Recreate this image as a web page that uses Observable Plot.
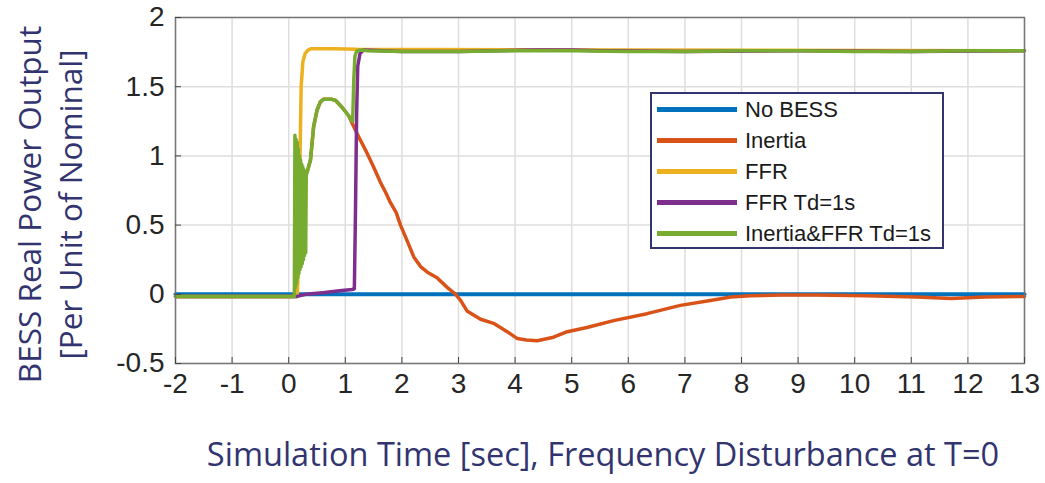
<!DOCTYPE html>
<html><head><meta charset="utf-8">
<script src="https://cdn.jsdelivr.net/npm/d3@7"></script>
<script src="https://cdn.jsdelivr.net/npm/@observablehq/plot@0.6"></script>
<style>
body{margin:0;background:#fff;}
#wrap{position:relative;width:1045px;height:483px;overflow:hidden;}
#legend{position:absolute;left:650px;top:92px;width:290px;height:153px;border:2px solid #33336e;background:#fff;font-family:"Liberation Sans",Arial,sans-serif;font-size:22px;color:#1a1a1a;}
.row{position:absolute;left:5px;height:31px;display:flex;align-items:center;white-space:nowrap;}
.sw{width:80px;height:5px;margin-right:8px;}
</style></head><body><div id="wrap"></div>
<script>
// ---- data ----
const seriesNames = ["No BESS", "Inertia", "FFR", "FFR Td=1s", "Inertia&FFR Td=1s"];
const seriesColors = ["#0072BD", "#D95319", "#EDB120", "#7E2F8E", "#77AC30"];
const xTicks = [-2,-1,0,1,2,3,4,5,6,7,8,9,10,11,12,13];
const yTicks = [-0.5,0,0.5,1,1.5,2];
const xTitle = "Simulation Time [sec], Frequency Disturbance at T=0";
const yTitle1 = "BESS Real Power Output";
const yTitle2 = "[Per Unit of Nominal]";

const tNoBess = [-2, 13];
const vNoBess = [0, 0];

const tInertia = [-2,-1,0,0.10,0.13,0.16,0.19,0.22,0.26,0.30,0.33,0.385,0.44,0.50,0.56,0.62,0.68,0.75,0.83,0.945,1.06,1.15,1.24,1.36,1.50,1.62,1.72,1.80,1.90,1.975,2.09,2.21,2.33,2.45,2.62,2.80,2.95,3.04,3.15,3.39,3.62,3.86,4.04,4.2,4.39,4.68,4.92,5.27,5.74,6.33,6.92,7.45,7.81,8.16,8.7,9.34,10.2,11.1,11.7,12.3,13];
const vInertia = [-0.015,-0.015,-0.015,-0.015,0.15,0.45,0.65,0.78,0.84,0.87,0.89,0.97,1.21,1.33,1.39,1.41,1.41,1.41,1.40,1.35,1.29,1.21,1.135,1.04,0.92,0.81,0.73,0.66,0.59,0.50,0.39,0.27,0.20,0.16,0.12,0.05,0.0,-0.045,-0.12,-0.18,-0.21,-0.27,-0.32,-0.33,-0.335,-0.31,-0.27,-0.24,-0.19,-0.14,-0.08,-0.045,-0.02,-0.01,-0.005,-0.005,-0.01,-0.02,-0.03,-0.02,-0.015];

const tFFR = [-2,0.15,0.18,0.20,0.22,0.25,0.29,0.34,0.40,0.8,1.2,13];
const vFFR = [-0.015,-0.015,0.3,1.0,1.5,1.68,1.74,1.765,1.775,1.775,1.77,1.76];

const tFFRTd = [-2,0.15,0.3,0.6,0.9,1.12,1.16,1.18,1.20,1.22,1.26,1.32,2.0,3.0,4.3,5.0,5.5,7,9,11,13];
const vFFRTd = [-0.015,-0.015,0.0,0.012,0.025,0.035,0.04,0.6,1.3,1.65,1.74,1.765,1.755,1.755,1.765,1.765,1.76,1.755,1.76,1.755,1.76];

const tInFFR = [-2,0.10,0.11,0.12,0.13,0.14,0.15,0.16,0.17,0.18,0.19,0.20,0.21,0.22,0.23,0.24,0.25,0.26,0.27,0.28,0.29,0.30,0.31,0.33,0.385,0.44,0.50,0.56,0.62,0.68,0.75,0.83,0.945,1.06,1.10,1.13,1.15,1.17,1.20,1.25,1.4,2,3,4,5,6,7,8,9,10,11,12,13];
const vInFFR = [-0.015,-0.015,1.15,0.05,1.12,0.08,1.10,0.12,1.05,0.15,1.0,0.18,0.97,0.2,0.94,0.22,0.92,0.25,0.9,0.28,0.88,0.3,0.86,0.89,0.97,1.21,1.33,1.39,1.41,1.41,1.41,1.40,1.35,1.29,1.26,1.25,1.55,1.72,1.755,1.765,1.76,1.755,1.755,1.76,1.76,1.755,1.755,1.76,1.76,1.755,1.755,1.76,1.76];

// ---- build ----
const seriesT = [tNoBess, tInertia, tFFR, tFFRTd, tInFFR];
const seriesV = [vNoBess, vInertia, vFFR, vFFRTd, vInFFR];
const rows = seriesT.map((ts, i) => ts.map((t, j) => ({series: seriesNames[i], t, v: seriesV[i][j]})));

const navy = "#323470";
const chart = Plot.plot({
  width: 1045, height: 483,
  marginLeft: 175, marginRight: 21, marginTop: 17, marginBottom: 120,
  x: {domain: [-2, 13], label: null},
  y: {domain: [-0.5, 2], label: null},
  style: {fontFamily: "'Liberation Sans', Arial, sans-serif", fontSize: "28px", color: "#262626", background: "white", overflow: "visible"},
  marks: [
    Plot.gridX(xTicks, {stroke: "#dedede", strokeOpacity: 1, strokeWidth: 1.5}),
    Plot.gridY(yTicks, {stroke: "#dedede", strokeOpacity: 1, strokeWidth: 1.5}),
    ...rows.map((r, i) => Plot.line(r, {x: "t", y: "v", stroke: seriesColors[i], strokeWidth: i === 0 ? 4 : 3.5, strokeLinejoin: "round"})),
    Plot.frame({stroke: "#777", strokeWidth: 1.5}),
    Plot.axisX(xTicks, {tickSize: -6, tickPadding: 16, tickFormat: d => String(d), label: null, stroke: "#444"}),
    Plot.axisY(yTicks, {tickSize: -6, tickPadding: 17, tickFormat: d => String(d), label: null, stroke: "#444"}),
    Plot.text([yTitle1], {frameAnchor: "left", textAnchor: "middle", rotate: -90, dx: -145, dy: 14, fill: navy, fontFamily: "'Open Sans', sans-serif", fontSize: 31.5}),
    Plot.text([yTitle2], {frameAnchor: "left", textAnchor: "middle", rotate: -90, dx: -104, dy: 14, fill: navy, fontFamily: "'Open Sans', sans-serif", fontSize: 31.5}),
    Plot.text([xTitle], {frameAnchor: "bottom", dx: 3, dy: 102, fill: navy, fontFamily: "'Open Sans', sans-serif", fontSize: 32.5})
  ]
});
const wrap = document.getElementById("wrap");
wrap.appendChild(chart);

// legend overlay
const leg = document.createElement("div");
leg.id = "legend";
seriesNames.forEach((name, i) => {
  const row = document.createElement("div");
  row.className = "row";
  row.style.top = (i * 31) + "px";
  const sw = document.createElement("div");
  sw.className = "sw";
  sw.style.background = seriesColors[i];
  const tx = document.createElement("span");
  tx.textContent = name;
  row.appendChild(sw); row.appendChild(tx);
  leg.appendChild(row);
});
wrap.appendChild(leg);
</script>
</body></html>
